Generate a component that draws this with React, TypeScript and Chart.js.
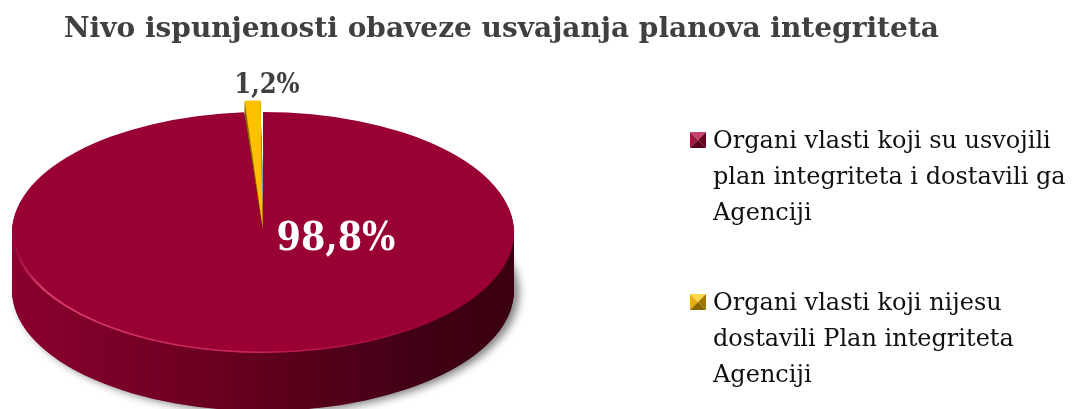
import React, { useEffect, useRef } from 'react';
import { Chart, registerables } from 'chart.js';

Chart.register(...registerables);

const chartTitle = 'Nivo ispunjenosti obaveze usvajanja planova integriteta';
const categories = [
  'Organi vlasti koji su usvojili plan integriteta i dostavili ga Agenciji',
  'Organi vlasti koji nijesu dostavili Plan integriteta Agenciji',
];
const legendLines = [
  ['Organi vlasti koji su usvojili', 'plan integriteta i dostavili ga', 'Agenciji'],
  ['Organi vlasti koji nijesu', 'dostavili Plan integriteta', 'Agenciji'],
];
const values = [98.8, 1.2];
const topColors = ['#990033', '#FFC000'];
const sideColors = [
  ['#8a002d', '#66001f', '#420014', '#3a0010'],
  ['#b08600', '#8a6800', '#5c4500', '#4a3800'],
];
const sliceOffsets = [0, 24];

const SERIF_C = '"DejaVu Serif Condensed", "DejaVu Serif", serif';
const SERIF = '"DejaVu Serif", serif';
const W = 1073;
const H = 409;
const RX = 251;
const DEPTH = 58;

const fmt = (v: number) => v.toFixed(1).replace('.', ',') + '%';

function fakeArc(arc: any, fill: any) {
  const o = arc.options || {};
  const f = Object.create(arc);
  f.options = {
    backgroundColor: fill,
    borderColor: 'transparent',
    borderWidth: 0,
    borderAlign: 'center',
    borderRadius: 0,
    borderDash: [],
    borderDashOffset: 0,
    borderJoinStyle: undefined,
    offset: o.offset || 0,
    spacing: o.spacing || 0,
    circular: true,
  };
  return f;
}

function bevelSquare(ctx: CanvasRenderingContext2D, x: number, y: number, s: number, cols: string[]) {
  const cxp = x + s / 2;
  const cyp = y + s / 2;
  const tri = (pts: number[][], c: string) => {
    ctx.beginPath();
    ctx.moveTo(pts[0][0], pts[0][1]);
    for (let i = 1; i < pts.length; i++) ctx.lineTo(pts[i][0], pts[i][1]);
    ctx.closePath();
    ctx.fillStyle = c;
    ctx.fill();
  };
  tri([[x, y], [x + s, y], [cxp, cyp]], cols[0]);
  tri([[x, y], [x, y + s], [cxp, cyp]], cols[1]);
  tri([[x + s, y], [x + s, y + s], [cxp, cyp]], cols[2]);
  tri([[x, y + s], [x + s, y + s], [cxp, cyp]], cols[3]);
}

const squareCols = [
  ['#c8406c', '#a8103e', '#6a0020', '#5a001a'],
  ['#ffd84a', '#e8b000', '#a07a00', '#8a6800'],
];

const pie3d = {
  id: 'pie3d',
  beforeDatasetsDraw(chart: any) {
    const ctx: CanvasRenderingContext2D = chart.ctx;
    const arcs = chart.getDatasetMeta(0).data;
    const a0 = arcs[0];
    const cx = a0.x;
    const cy = a0.y;
    const R = a0.outerRadius;
    const sx = RX / R;
    const grads = sideColors.map((c) => {
      const g = ctx.createLinearGradient(cx - R, 0, cx + R, 0);
      g.addColorStop(0, c[0]);
      g.addColorStop(0.45, c[1]);
      g.addColorStop(0.8, c[2]);
      g.addColorStop(1, c[3]);
      return g;
    });
    for (let d = DEPTH; d >= 1; d--) {
      ctx.save();
      ctx.translate(cx, cy + d);
      ctx.scale(sx, 1);
      ctx.translate(-cx, -cy);
      if (d === DEPTH) {
        ctx.shadowColor = 'rgba(0,0,0,0.5)';
        ctx.shadowBlur = 8;
        ctx.shadowOffsetX = 5;
        ctx.shadowOffsetY = 2;
      }
      arcs.forEach((arc: any, i: number) => {
        fakeArc(arc, grads[i]).draw(ctx);
      });
      ctx.restore();
    }
    ctx.save();
    ctx.translate(cx, cy);
    ctx.scale(sx, 1);
    ctx.translate(-cx, -cy);
  },
  afterDatasetsDraw(chart: any) {
    const ctx: CanvasRenderingContext2D = chart.ctx;
    const arcs = chart.getDatasetMeta(0).data;
    const a0 = arcs[0];
    const cx = a0.x;
    const cy = a0.y;
    const R = a0.outerRadius;
    const g = ctx.createLinearGradient(cx - R, 0, cx + R, 0);
    g.addColorStop(0, 'rgba(235,80,125,0.0)');
    g.addColorStop(0.06, 'rgba(235,80,125,0.75)');
    g.addColorStop(0.5, 'rgba(225,60,110,0.6)');
    g.addColorStop(0.9, 'rgba(200,40,90,0)');
    ctx.strokeStyle = g;
    ctx.lineWidth = 1.4;
    ctx.beginPath();
    ctx.arc(cx, cy, R - 0.8, 0.05 * Math.PI, 0.97 * Math.PI);
    ctx.stroke();
    ctx.restore();

    ctx.save();
    ctx.textAlign = 'center';
    ctx.textBaseline = 'alphabetic';
    ctx.font = `bold 39px ${SERIF_C}`;
    ctx.fillStyle = '#ffffff';
    ctx.fillText(fmt(values[0]), cx + 73, cy + 17);
    ctx.font = `bold 27px ${SERIF_C}`;
    ctx.fillStyle = '#404040';
    ctx.fillText(fmt(values[1]), cx + 4, cy - 139.5);
    ctx.restore();
  },
  afterDraw(chart: any) {
    const ctx: CanvasRenderingContext2D = chart.ctx;
    ctx.save();
    ctx.textAlign = 'left';
    ctx.textBaseline = 'alphabetic';
    ctx.font = `bold 28px ${SERIF}`;
    ctx.fillStyle = '#404040';
    ctx.fillText(chartTitle, 64, 37);

    const tops = [132, 294];
    ctx.font = `24px ${SERIF}`;
    legendLines.forEach((lines, i) => {
      bevelSquare(ctx, 690, tops[i], 16, squareCols[i]);
      ctx.fillStyle = '#111111';
      lines.forEach((ln, j) => {
        ctx.fillText(ln, 713, tops[i] + 16 + j * 36);
      });
    });
    ctx.restore();
  },
};

export default function App() {
  const ref = useRef<HTMLCanvasElement | null>(null);
  useEffect(() => {
    if (!ref.current) return;
    const chart = new Chart(ref.current, {
      type: 'pie',
      data: {
        labels: categories,
        datasets: [
          {
            data: values,
            backgroundColor: topColors,
            borderWidth: 0,
            offset: sliceOffsets,
            clip: false,
          } as any,
        ],
      },
      options: {
        responsive: false,
        animation: false,
        devicePixelRatio: 1,
        events: [],
        radius: 120.5,
        rotation: 0,
        layout: { padding: { left: 12, right: W - 514, top: 112, bottom: H - 353 } },
        plugins: {
          legend: { display: false },
          title: { display: false },
          tooltip: { enabled: false },
        },
      } as any,
      plugins: [pie3d as any],
    });
    return () => chart.destroy();
  }, []);
  return (
    <div style={{ position: 'fixed', left: 0, top: 0, width: W, height: H, background: '#fff' }}>
      <canvas ref={ref} width={W} height={H} style={{ display: 'block' }} />
    </div>
  );
}
